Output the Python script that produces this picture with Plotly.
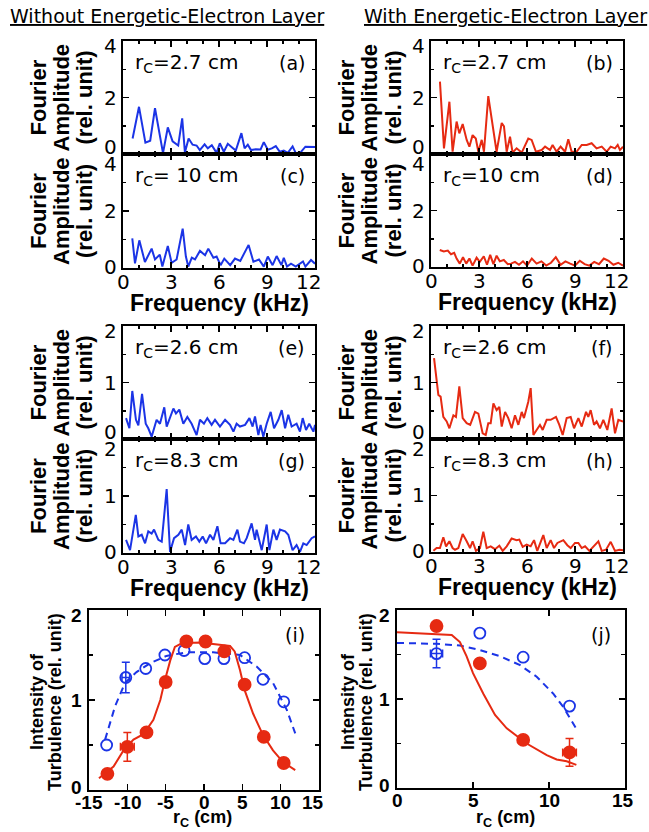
import plotly.graph_objects as go

W, H = 649, 832

# ---------------- data: Fourier spectra (kHz, rel. unit) ----------------
freq_a = [0.6,1.0,1.4,1.7,2.0,2.3,2.5,2.8,3.1,3.45,3.7,3.87,4.1,4.35,4.6,4.8,5.1,5.3,5.55,5.85,6.05,6.3,6.55,6.8,7.05,7.4,7.6,7.8,8.0,8.3,8.6,8.8,9.05,9.3,9.55,9.8,10.05,10.3,10.6,10.8,11.1,11.4,11.7,12.0]
amp_a = [0.55,1.67,0.4,0.47,1.62,0.7,0.03,0.94,0.45,0.3,1.26,0.05,0.55,0.33,0.3,0.14,0.34,0.2,0.31,0.04,0.38,0.08,0.36,0.24,0.12,0.74,0.2,0.33,0.14,0.17,0.16,0.42,0.15,0.2,0.28,0.08,0.12,0.04,0.27,0.03,0.06,0.26,0.25,0.25]

freq_c = [0.58,0.75,1.02,1.37,1.79,2.0,2.3,2.46,2.8,3.04,3.35,3.73,3.93,4.08,4.3,4.5,4.81,5.13,5.33,5.65,5.85,6.1,6.33,6.7,7.0,7.33,7.85,8.15,8.5,8.8,9.05,9.35,9.6,9.9,10.05,10.25,10.5,10.8,11.25,11.4,11.75,12.0]
amp_c = [1.04,0.16,0.97,0.21,0.68,0.3,0.47,0.05,0.77,0.18,0.3,1.38,0.4,0.05,0.36,0.3,0.6,0.45,0.68,0.36,0.4,0.1,0.33,0.1,0.33,0.25,0.81,0.22,0.3,0.05,0.4,0.1,0.42,0.1,0.36,0.05,0.15,0.05,0.23,0.05,0.28,0.15]

freq_b = [0.56,0.81,1.15,1.35,1.6,1.77,1.98,2.23,2.4,2.6,2.8,2.96,3.17,3.31,3.58,3.9,4.1,4.42,4.56,4.73,4.94,5.1,5.35,5.67,6.08,6.29,6.56,6.92,7.13,7.44,7.6,7.85,8.1,8.38,8.58,8.79,9.1,9.42,9.73,10.04,10.35,10.67,10.98,11.23,11.5,11.67,11.81,12.0]
amp_b = [2.56,0.2,1.85,0.08,1.15,0.73,1.06,0.5,0.26,0.67,0.55,0.08,0.5,0.08,2.05,0.85,0.08,1.1,0.98,0.08,0.61,0.05,0.2,0.05,0.55,0.5,0.08,0.14,0.26,0.14,0.32,0.08,0.26,0.08,0.52,0.08,0.08,0.32,0.32,0.38,0.2,0.26,0.08,0.26,0.2,0.32,0.14,0.26]

freq_d = [0.55,0.8,1.05,1.25,1.45,1.6,1.8,2.0,2.2,2.4,2.6,2.85,3.05,3.3,3.5,3.7,3.9,4.1,4.3,4.55,4.8,5.0,5.25,5.5,5.75,6.0,6.3,6.6,6.9,7.2,7.5,7.8,8.1,8.4,8.7,9.0,9.3,9.6,9.9,10.2,10.5,10.8,11.1,11.4,11.7,12.0]
amp_d = [0.6,0.55,0.58,0.45,0.5,0.3,0.12,0.35,0.12,0.3,0.05,0.33,0.18,0.38,0.08,0.43,0.1,0.4,0.2,0.25,0.1,0.12,0.18,0.08,0.2,0.05,0.3,0.12,0.2,0.05,0.15,0.35,0.08,0.2,0.12,0.05,0.22,0.1,0.05,0.18,0.1,0.3,0.22,0.08,0.15,0.05]

freq_e = [0.19,0.4,0.58,0.81,0.96,1.19,1.42,1.58,1.79,2.1,2.31,2.58,2.73,2.94,3.15,3.31,3.52,3.77,4.02,4.29,4.6,4.81,5.06,5.27,5.54,5.75,6.06,6.38,6.69,6.9,7.1,7.31,7.63,7.9,8.1,8.25,8.46,8.6,8.77,8.98,9.23,9.44,9.71,9.92,10.13,10.33,10.54,10.85,11.06,11.23,11.44,11.64,11.9,12.0]
amp_e = [0.37,0.19,0.85,0.34,0.24,0.8,0.27,0.19,0.04,0.34,0.27,0.56,0.22,0.37,0.54,0.45,0.52,0.27,0.39,0.27,0.07,0.34,0.27,0.37,0.25,0.34,0.22,0.34,0.25,0.13,0.27,0.22,0.25,0.37,0.22,0.4,0.07,0.25,0.04,0.27,0.48,0.19,0.34,0.51,0.19,0.43,0.22,0.27,0.13,0.37,0.16,0.27,0.13,0.25]

freq_g = [0.19,0.44,0.8,0.96,1.17,1.38,1.58,1.79,1.94,2.21,2.42,2.73,2.94,3.19,3.46,3.67,3.88,4.08,4.29,4.56,4.77,4.98,5.19,5.44,5.65,5.9,6.1,6.38,6.69,6.9,7.15,7.31,7.56,7.73,8.04,8.25,8.35,8.67,8.98,9.15,9.4,9.6,9.81,10.13,10.33,10.6,10.85,11.06,11.27,11.48,11.79,12.0]
amp_g = [0.23,0.05,0.67,0.29,0.32,0.17,0.38,0.34,0.41,0.23,0.2,1.12,0.02,0.26,0.32,0.41,0.14,0.5,0.23,0.29,0.2,0.29,0.17,0.32,0.23,0.47,0.17,0.17,0.26,0.23,0.41,0.2,0.17,0.26,0.52,0.23,0.41,0.05,0.5,0.05,0.41,0.23,0.41,0.38,0.32,0.05,0.14,0.02,0.17,0.14,0.26,0.29]

freq_f = [0.19,0.35,0.46,0.6,0.77,0.98,1.15,1.4,1.56,1.77,1.98,2.23,2.45,2.75,2.96,3.23,3.42,3.58,3.73,3.9,4.1,4.27,4.42,4.63,4.83,5.04,5.25,5.46,5.67,5.81,6.08,6.23,6.4,6.6,6.81,6.98,7.23,7.48,7.69,7.81,8.02,8.23,8.48,8.73,8.94,9.21,9.42,9.69,9.83,9.98,10.19,10.35,10.56,10.77,11.02,11.29,11.5,11.71,12.0]
amp_f = [1.43,1.04,0.78,0.75,0.39,0.31,0.19,0.42,0.39,0.93,0.37,0.28,0.25,0.48,0.45,0.1,0.07,0.28,0.28,0.63,0.51,0.57,0.22,0.48,0.37,0.19,0.42,0.25,0.48,0.37,0.66,0.9,0.07,0.16,0.25,0.16,0.34,0.34,0.37,0.39,0.25,0.07,0.37,0.39,0.19,0.37,0.22,0.48,0.39,0.51,0.25,0.31,0.19,0.34,0.16,0.54,0.1,0.34,0.31]

freq_h = [0.15,0.35,0.56,0.77,0.94,1.15,1.35,1.5,1.71,1.98,2.23,2.44,2.6,2.81,3.06,3.27,3.48,3.73,4.0,4.27,4.48,4.73,5.04,5.35,5.52,5.73,5.98,6.23,6.44,6.64,7.02,7.23,7.48,7.69,7.9,8.27,8.52,8.73,9.0,9.21,9.42,9.63,9.9,10.15,10.46,10.67,10.94,11.23,11.5,11.77,12.0]
amp_h = [0.02,0.07,0.07,0.26,0.1,0.19,0.07,0.04,0.07,0.32,0.19,0.07,0.19,0.02,0.07,0.36,0.07,0.1,0.05,0.11,0.02,0.1,0.24,0.21,0.22,0.09,0.13,0.1,0.21,0.02,0.3,0.07,0.21,0.07,0.16,0.21,0.12,0.07,0.16,0.16,0.07,0.1,0.02,0.09,0.19,0.02,0.04,0.18,0.02,0.04,0.03]

freq_ticks = [0, 3, 6, 9, 12]

# ---------------- data: turbulence intensity profiles ----------------
rc_i_blue = [-12.7, -10.2, -7.6, -5.1, -2.6, 0.1, 2.6, 5.3, 7.7, 10.4]
int_i_blue = [0.50, 1.25, 1.35, 1.50, 1.55, 1.46, 1.46, 1.47, 1.23, 0.98]
err_i_blue_y = [0, 0.17, 0, 0, 0, 0, 0, 0, 0, 0]
err_i_blue_x = [0, 0.5, 0, 0, 0, 0, 0, 0, 0, 0]
rc_i_red = [-12.6, -10.0, -7.5, -5.0, -2.3, 0.2, 2.65, 5.3, 7.8, 10.4]
int_i_red = [0.18, 0.48, 0.64, 1.20, 1.65, 1.65, 1.54, 1.17, 0.59, 0.30]
err_i_red_y = [0, 0.16, 0, 0, 0, 0, 0, 0, 0, 0]
err_i_red_x = [0, 0.9, 0, 0, 0, 0, 0, 0, 0, 0]

fit_i_red_x = [-13.7, -11.8, -10.5, -9.2, -7.9, -6.6, -5.7, -5.1, -4.4, -3.8, -2.9, -0.5, 3.4, 4.0, 4.7, 5.3, 6.4, 7.7, 9.0, 10.3, 11.9]
fit_i_red_y = [0.13, 0.26, 0.44, 0.56, 0.62, 0.78, 1.0, 1.22, 1.44, 1.59, 1.63, 1.64, 1.60, 1.54, 1.33, 1.11, 0.85, 0.61, 0.44, 0.31, 0.22]
fit_i_blue_x = [-12.9, -11.6, -10.3, -8.8, -7.0, -4.9, -2.3, 1.2, 4.7, 6.9, 9.0, 10.8, 11.9]
fit_i_blue_y = [0.56, 0.93, 1.19, 1.31, 1.41, 1.49, 1.53, 1.53, 1.50, 1.37, 1.19, 0.89, 0.63]

rc_j = [2.6, 5.45, 8.3, 11.35]
int_j_red = [1.82, 1.40, 0.54, 0.40]
err_j_red_y = [0, 0, 0, 0.155]
err_j_red_x = [0, 0, 0, 0.45]
int_j_blue = [1.51, 1.74, 1.47, 0.92]
err_j_blue_y = [0.16, 0, 0, 0]
err_j_blue_x = [0.4, 0, 0, 0]

fit_j_red_x = [0, 3.6, 4.14, 4.58, 5.0, 5.68, 6.45, 7.22, 8.53, 9.85, 10.5, 11.16, 11.8]
fit_j_red_y = [1.75, 1.72, 1.64, 1.48, 1.29, 1.06, 0.82, 0.67, 0.50, 0.37, 0.32, 0.30, 0.26]
fit_j_blue_x = [0, 2.61, 4.14, 5.46, 6.78, 8.1, 9.19, 10.28, 10.94, 11.5, 11.78]
fit_j_blue_y = [1.63, 1.62, 1.60, 1.55, 1.48, 1.38, 1.25, 1.06, 0.91, 0.76, 0.67]

# ---------------- styling ----------------
BLUE = "#1b34e6"
RED = "#e62a12"
REG = "DejaVu Sans"
BOLD = "Liberation Sans, Arial"


def dom_x(l, r):
    return [l / W, r / W]


def dom_y(t, b):
    return [1 - b / H, 1 - t / H]


fig = go.Figure()
layout = dict(
    template="none",
    width=W, height=H, margin=dict(l=0, r=0, t=0, b=0, pad=0, autoexpand=False),
    paper_bgcolor="white", plot_bgcolor="white", showlegend=False,
    font=dict(family=REG, color="black"),
)
ann = []


def label(text, xref, x, yref, y, size, family=REG, xanchor="center", xshift=0, yshift=0,
          angle=0):
    ann.append(dict(text=text, xref=xref, x=x, yref=yref, y=y, xanchor=xanchor,
                    yanchor="middle", xshift=xshift, yshift=yshift, textangle=angle,
                    showarrow=False, font=dict(family=family, size=size, color="black")))


spectra = [
    # freq, amp, color, x px, y px, ymax, tag, label, lower-of-pair
    (freq_a, amp_a, BLUE, (123, 315), (41, 154), 4, "(a)", "r<sub>C</sub>=2.7 cm", False),
    (freq_c, amp_c, BLUE, (123, 315), (154, 268), 4, "(c)", "r<sub>C</sub>= 10 cm", True),
    (freq_b, amp_b, RED, (431, 623), (41, 154), 4, "(b)", "r<sub>C</sub>=2.7 cm", False),
    (freq_d, amp_d, RED, (431, 623), (154, 267), 4, "(d)", "r<sub>C</sub>=10 cm", True),
    (freq_e, amp_e, BLUE, (123, 315), (326, 439), 2, "(e)", "r<sub>C</sub>=2.6 cm", False),
    (freq_g, amp_g, BLUE, (123, 315), (439, 553), 2, "(g)", "r<sub>C</sub>=8.3 cm", True),
    (freq_f, amp_f, RED, (431, 623), (326, 439), 2, "(f)", "r<sub>C</sub>=2.6 cm", False),
    (freq_h, amp_h, RED, (431, 623), (439, 552), 2, "(h)", "r<sub>C</sub>=8.3 cm", True),
]

frame = dict(showline=True, linewidth=2, linecolor="black", mirror="allticks",
             ticks="inside", tickwidth=1.5, tickcolor="black", automargin=False,
             showgrid=False, zeroline=False, fixedrange=True, showticklabels=False)

for n, (fx, fy, col, xp, yp, ymax, tag, lab, lower) in enumerate(spectra, start=1):
    xa = "x" if n == 1 else f"x{n}"
    ya = "y" if n == 1 else f"y{n}"
    layout[f"xaxis{n}"] = dict(
        frame, domain=dom_x(*xp), anchor=ya, range=[0, 12],
        tickvals=freq_ticks, ticklen=6,
        minor=dict(dtick=1, tick0=0, ticks="inside", ticklen=3, tickwidth=1.5, tickcolor="black"),
    )
    yt = [0, ymax / 2, ymax]
    layout[f"yaxis{n}"] = dict(
        frame, domain=dom_y(*yp), anchor=xa, range=[0, ymax],
        tickvals=yt, ticklen=6,
        minor=dict(dtick=ymax / 4, tick0=0, ticks="inside", ticklen=3, tickwidth=1.5, tickcolor="black"),
    )
    fig.add_trace(go.Scatter(x=fx, y=fy, xaxis=xa, yaxis=ya, mode="lines",
                             line=dict(color=col, width=2), hoverinfo="skip"))
    # y tick labels (pulled inward at the ends so stacked panels don't collide)
    shifts = {0: 1 if lower else 7, ymax / 2: 0, ymax: -10 if lower else -5}
    for v in yt:
        label(f"{v:g}", f"{xa} domain", 0, ya, v, 20, xanchor="right", xshift=-4, yshift=shifts[v])
    if lower:
        for v in freq_ticks:
            label(f"{v:g}", xa, v, f"{ya} domain", 0, 20, yshift=-14,
                  xshift=(-7 if v == 12 else 0))
        label("<b>Frequency (kHz)</b>", f"{xa} domain", 0.5, "paper", 1 - (yp[1] + 35) / H, 23,
              family=BOLD)
    label(lab, f"{xa} domain", 0, f"{ya} domain", 1, 20, xanchor="left", xshift=10, yshift=-22)
    label(tag, f"{xa} domain", 1, f"{ya} domain", 1, 19, xanchor="right", xshift=-8, yshift=-22)
    cols = (38, 61, 84) if xp[0] < 300 else (346, 369, 393)
    for cx, line in zip(cols, ["Fourier", "Amplitude", "(rel. unit)"]):
        label(f"<b>{line}</b>", "paper", cx / W, f"{ya} domain", 0.5, 22, family=BOLD, angle=-90)

# ---------------- bottom panels ----------------
bottom = [
    (9, (89, 319), (610, 790), [-15, 15], [-15, -10, -5, 0, 5, 10, 15], "(i)", 202, (37, 55), -6),
    (10, (397, 625), (610, 788), [0, 15], [0, 5, 10, 15], "(j)", 505, (348, 366), -2),
]
for n, xp, yp, xr, xt, tag, xtc, ycols, lastshift in bottom:
    xa, ya = f"x{n}", f"y{n}"
    layout[f"xaxis{n}"] = dict(frame, domain=dom_x(*xp), anchor=ya, range=xr, tickvals=xt, ticklen=6)
    layout[f"yaxis{n}"] = dict(
        frame, domain=dom_y(*yp), anchor=xa, range=[0, 2], tickvals=[0, 1, 2], ticklen=6,
        minor=dict(dtick=0.5, tick0=0, ticks="inside", ticklen=4, tickwidth=1.5, tickcolor="black"),
    )
    for v in xt:
        label(f"<b>{v:g}</b>", xa, v, f"{ya} domain", 0, 19, family=BOLD, yshift=-12,
              xshift=(lastshift if v == xt[-1] else 0))
    for v, sh in zip([0, 1, 2], [3, 0, -5]):
        label(f"<b>{v:g}</b>", f"{xa} domain", 0, ya, v, 19, family=BOLD, xanchor="right",
              xshift=-5, yshift=sh)
    label(tag, f"{xa} domain", 1, f"{ya} domain", 1, 19, xanchor="right", xshift=-12, yshift=-25)
    label("<b>r<sub>C</sub> (cm)</b>", "paper", xtc / W, "paper", 1 - 818 / H, 18, family=BOLD)
    for cx, line in zip(ycols, ["Intensity of", "Turbulence (rel. unit)"]):
        label(f"<b>{line}</b>", "paper", cx / W, "paper", 1 - 702 / H, 18, family=BOLD, angle=-90)


def add_profile(xa, ya, fx, fy, line, px, py, ex, ey, color, filled):
    fig.add_trace(go.Scatter(x=fx, y=fy, xaxis=xa, yaxis=ya, mode="lines",
                             line=dict(color=color, width=2, dash=line), hoverinfo="skip"))
    e_y = dict(type="data", visible=True, color=color, thickness=1.5, width=4)
    e_x = dict(type="data", visible=True, color=color, thickness=1.5, width=4)
    idx = [k for k in range(len(px)) if ey[k] > 0 or ex[k] > 0]
    rest = [k for k in range(len(px)) if k not in idx]
    mk = dict(symbol="circle" if filled else "circle-open", size=12 if filled else 11,
              color=color, line=dict(color=color, width=1.8))
    fig.add_trace(go.Scatter(x=[px[k] for k in rest], y=[py[k] for k in rest], xaxis=xa, yaxis=ya,
                             mode="markers", marker=mk, hoverinfo="skip"))
    if idx:
        fig.add_trace(go.Scatter(
            x=[px[k] for k in idx], y=[py[k] for k in idx], xaxis=xa, yaxis=ya, mode="markers",
            marker=mk, hoverinfo="skip",
            error_y=dict(e_y, array=[ey[k] for k in idx]),
            error_x=dict(e_x, array=[ex[k] for k in idx])))


add_profile("x9", "y9", fit_i_blue_x, fit_i_blue_y, "7px,5px", rc_i_blue, int_i_blue,
            err_i_blue_x, err_i_blue_y, BLUE, False)
add_profile("x9", "y9", fit_i_red_x, fit_i_red_y, "solid", rc_i_red, int_i_red,
            err_i_red_x, err_i_red_y, RED, True)
add_profile("x10", "y10", fit_j_blue_x, fit_j_blue_y, "7px,5px", rc_j, int_j_blue,
            err_j_blue_x, err_j_blue_y, BLUE, False)
add_profile("x10", "y10", fit_j_red_x, fit_j_red_y, "solid", rc_j, int_j_red,
            err_j_red_x, err_j_red_y, RED, True)

# ---------------- column titles ----------------
label("<u>Without Energetic-Electron Layer</u>", "paper", 8 / W, "paper", 1 - 16 / H, 19,
      xanchor="left")
label("<u>With Energetic-Electron Layer</u>", "paper", 362 / W, "paper", 1 - 16 / H, 19,
      xanchor="left")

layout["annotations"] = ann
fig.update_layout(**layout)
fig.write_html("out.html", config={"displayModeBar": False, "staticPlot": True},
               post_script="document.body.style.margin='0';document.body.style.padding='0';")
